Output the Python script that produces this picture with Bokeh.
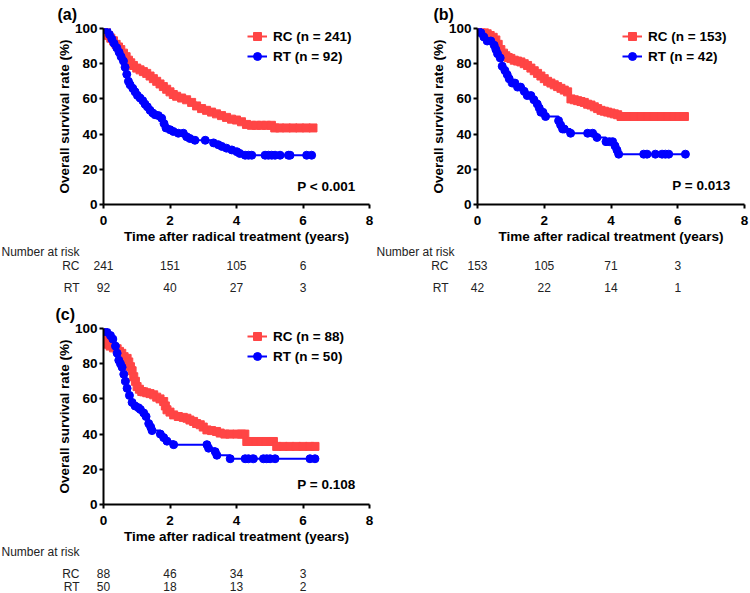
from bokeh.plotting import figure
from bokeh.models import Range1d, Label, Legend, LegendItem, Title
from bokeh.core.properties import value
from bokeh.layouts import column, row
from bokeh.embed import file_html
from bokeh.resources import INLINE

# ---------------- data ----------------
x_ticks = [0, 2, 4, 6, 8]
y_ticks = [0, 20, 40, 60, 80, 100]
risk_times = [0, 2, 4, 6]

# panel (a)
a_rc_t = [0, 0.08, 0.15, 0.22, 0.3, 0.38, 0.45, 0.52, 0.6, 0.68, 0.75, 0.82, 0.9, 1.0, 1.1,
          1.2, 1.3, 1.4, 1.5, 1.6, 1.7, 1.8, 1.9, 2.0, 2.1, 2.2, 2.35, 2.5, 2.65, 2.8,
          2.95, 3.1, 3.25, 3.4, 3.55, 3.7, 3.85, 4.0, 4.15, 4.3, 4.45, 4.6, 4.75, 4.9, 5.05,
          5.15, 5.3, 5.5, 5.7, 5.9, 6.1, 6.3]
a_rc_s = [100, 98, 96, 94.5, 93, 91, 89.5, 88, 86, 84, 82, 80.5, 79, 77.5, 76.5,
          75.5, 74.5, 73, 71.5, 70, 68.5, 67, 65.5, 64, 62.5, 61.5, 60.5, 59.5, 58, 56,
          54.5, 53.5, 52.5, 51.5, 50.5, 49.5, 48.5, 48, 47, 45.5, 45, 45, 45, 45, 45,
          43.5, 43.5, 43.5, 43.5, 43.5, 43.5, 43.5]
a_rt_t = [0, 0.1, 0.18, 0.25, 0.32, 0.4, 0.47, 0.53, 0.6, 0.65, 0.7, 0.75, 0.8, 0.88, 0.95,
          1.02, 1.1, 1.18, 1.25, 1.32, 1.4, 1.48, 1.55, 1.65, 1.75, 1.82, 1.88, 2.0, 2.1, 2.25,
          2.4, 2.5, 2.6, 2.75, 3.06, 3.31, 3.45, 3.56, 3.7, 3.86, 4.01, 4.1, 4.26, 4.36, 4.46,
          4.86, 4.96, 5.06, 5.16, 5.31, 5.56, 5.61, 6.11, 6.26]
a_rt_s = [100, 99, 96.5, 94, 91.5, 89, 86.5, 84, 81.5, 78, 74, 70, 68, 66, 64,
          62, 60.5, 59, 57, 55.5, 53.5, 52, 51, 50.5, 49, 46, 43.5, 42.5, 41.5, 40.5,
          40.5, 38.5, 37.5, 36.5, 36.5, 35, 34, 33, 32, 31, 30, 29, 28, 28, 28,
          28, 28, 28, 28, 28, 28, 28, 28, 28]
a_rc_risk = [241, 151, 105, 6]
a_rt_risk = [92, 40, 27, 3]

# panel (b)
b_rc_t = [0, 0.1, 0.2, 0.29, 0.38, 0.47, 0.55, 0.62, 0.7, 0.78, 0.85, 0.92, 1.0, 1.1, 1.2,
          1.3, 1.4, 1.5, 1.6, 1.7, 1.8, 1.9, 2.0, 2.1, 2.2, 2.3, 2.4, 2.5, 2.6, 2.7,
          2.8, 2.9, 3.0, 3.1, 3.2, 3.3, 3.4, 3.5, 3.6, 3.7, 3.8, 3.9, 4.0, 4.1, 4.2,
          4.3, 4.5, 4.7, 4.9, 5.1, 5.3, 5.5, 5.7, 5.9, 6.05, 6.2]
b_rc_s = [100, 99, 98, 97, 96, 95, 93.5, 91, 88, 86, 84.5, 83.5, 83, 82, 81.5,
          81, 80, 79, 77.5, 76, 74.5, 73, 71.5, 70, 69, 68, 67, 66, 65, 64,
          60, 59.5, 59, 58.5, 58, 57, 56.5, 55.5, 54.5, 53.5, 53, 52.5, 52, 51.5, 51,
          50, 50, 50, 50, 50, 50, 50, 50, 50, 50, 50]
b_rt_t = [0, 0.1, 0.19, 0.29, 0.4, 0.5, 0.55, 0.6, 0.68, 0.74, 0.82, 0.89, 0.95, 1.04, 1.12,
          1.2, 1.29, 1.4, 1.49, 1.6, 1.69, 1.79, 1.85, 1.9, 1.96, 2.04, 2.43, 2.49, 2.55, 2.6,
          2.79, 3.3, 3.45, 3.58, 3.85, 3.95, 4.05, 4.12, 4.18, 4.23, 4.98, 5.08, 5.33, 5.53, 5.63,
          5.73, 6.23]
b_rt_s = [100, 97.6, 95.2, 92.9, 92.9, 90.5, 88.1, 85.7, 83.3, 78.6, 76.2, 73.8, 71.4, 69.0, 69.0,
          66.7, 66.7, 64.3, 61.9, 61.9, 59.5, 57.1, 54.8, 52.4, 52.4, 50.0, 47.6, 45.2, 42.9, 42.9,
          40.5, 40.5, 40.5, 38.1, 35.7, 35.7, 35.7, 33.3, 30.9, 28.6, 28.6, 28.6, 28.6, 28.6, 28.6,
          28.6, 28.6]
b_rc_risk = [153, 105, 71, 3]
b_rt_risk = [42, 22, 14, 1]

# panel (c)
c_rc_t = [0, 0.05, 0.1, 0.15, 0.2, 0.3, 0.41, 0.48, 0.55, 0.62, 0.71, 0.76, 0.81, 0.86, 0.91,
          0.96, 1.01, 1.08, 1.15, 1.21, 1.3, 1.4, 1.51, 1.6, 1.7, 1.81, 1.86, 1.91, 2.0, 2.11,
          2.25, 2.4, 2.51, 2.6, 2.71, 2.8, 2.91, 3.0, 3.11, 3.25, 3.4, 3.51, 3.65, 3.8, 4.01,
          4.15, 4.25, 4.31, 4.45, 4.6, 4.75, 4.9, 5.05, 5.11, 5.21, 5.4, 5.6, 5.8, 6.0, 6.2, 6.36]
c_rc_s = [100, 97, 93, 91, 90, 89, 88.5, 87, 85.9, 84, 83, 81, 78.3, 76, 72.6,
          70, 67, 65.5, 64.2, 64, 63.5, 63, 62.3, 61, 60, 58.5, 56, 53.8, 52.5, 50.9,
          50, 49.5, 49, 48, 47.2, 46, 45.3, 44, 42.4, 42, 41.5, 40.6, 40, 40, 40,
          40, 40, 35.8, 35.8, 35.8, 35.8, 35.8, 35.8, 35.8, 33, 33, 33, 33, 33, 33, 33]
c_rt_t = [0, 0.1, 0.21, 0.28, 0.36, 0.41, 0.46, 0.51, 0.56, 0.61, 0.66, 0.71, 0.78, 0.86, 0.95,
          1.05, 1.11, 1.21, 1.28, 1.36, 1.42, 1.46, 1.71, 1.81, 1.91, 2.11, 3.11, 3.16, 3.36, 3.41,
          3.81, 4.26, 4.36, 4.51, 4.81, 4.91, 5.01, 5.16, 6.21, 6.36]
c_rt_s = [100, 98, 96, 94, 90, 86, 82, 80, 78, 74, 70, 66, 62, 58, 56,
          55, 54, 52, 50, 46, 44, 42, 40, 38, 36, 34, 34, 32, 30, 28,
          26, 26, 26, 26, 26, 26, 26, 26, 26, 26]
c_rc_risk = [88, 46, 34, 3]
c_rt_risk = [50, 18, 13, 2]

# ---------------- style ----------------
FONT = "Liberation Sans"
RED = "#FF4545"
BLUE = "#0000FF"
TXT = "#222222"
X_END = 8


def km_panel(tag, tag_offset, rc_t, rc_s, rt_t, rt_s, rc_label, rt_label, ptext, p_y,
             width, height, bl, br, bt, bb, legend_loc):
    p = figure(width=width, height=height, output_backend="svg", toolbar_location=None,
               x_range=Range1d(0, X_END), y_range=Range1d(0, 100),
               min_border_left=bl, min_border_right=br, min_border_top=bt, min_border_bottom=bb)
    p.outline_line_color = None
    p.xgrid.visible = False
    p.ygrid.visible = False

    for ax in (p.xaxis[0], p.yaxis[0]):
        ax.axis_line_width = 2
        ax.axis_line_color = "black"
        ax.major_tick_line_width = 2
        ax.major_tick_line_color = "black"
        ax.major_tick_in = 0
        ax.major_tick_out = 4
        ax.minor_tick_line_color = None
        ax.major_label_text_font = FONT
        ax.major_label_text_font_style = "bold"
        ax.major_label_text_font_size = "13.5px"
        ax.major_label_text_color = "black"
        ax.axis_label_text_font = FONT
        ax.axis_label_text_font_style = "bold"
        ax.axis_label_text_font_size = "13.5px"
        ax.axis_label_text_color = "black"
    p.xaxis.ticker = x_ticks
    p.yaxis.ticker = y_ticks
    p.xaxis.major_label_standoff = 7
    p.yaxis.major_label_standoff = 2
    p.xaxis.axis_label = "Time after radical treatment (years)"
    p.yaxis.axis_label = "Overall survival rate (%)"
    p.xaxis.axis_label_standoff = 1
    p.yaxis.axis_label_standoff = 0

    l1 = p.step(rc_t, rc_s, mode="after", line_color=RED, line_width=2)
    m1 = p.scatter(rc_t, rc_s, marker="square", size=8, fill_color=RED, line_color=RED)
    l2 = p.step(rt_t, rt_s, mode="after", line_color=BLUE, line_width=2)
    m2 = p.scatter(rt_t, rt_s, marker="circle", size=8, fill_color=BLUE, line_color=BLUE)

    legend = Legend(items=[LegendItem(label=rc_label, renderers=[l1, m1]),
                           LegendItem(label=rt_label, renderers=[l2, m2])],
                    location=legend_loc, margin=0, padding=0, spacing=0,
                    glyph_width=20, glyph_height=20, label_height=20, label_standoff=6,
                    label_text_font=FONT, label_text_font_style="bold",
                    label_text_font_size="13.5px", label_text_color="black",
                    background_fill_alpha=0, border_line_color=None)
    p.add_layout(legend, "center")

    p.add_layout(Title(text=tag, align="left", offset=tag_offset, standoff=8,
                       vertical_align="top",
                       text_font=FONT, text_font_style="bold", text_font_size="16px",
                       text_color="black"), "above")

    fw = width - bl - br
    p.add_layout(Label(x=(fw - 14) / fw * X_END, y=p_y, text=ptext, text_align="right",
                       text_baseline="middle", text_font=FONT, text_font_style="bold",
                       text_font_size="13.5px", text_color="black"))
    return p


def risk_table(rc_risk, rt_risk, width, height, frame_left, frame_w,
               nar_x, nar_y, row_x, rc_y, rt_y):
    # x scale identical to the KM frame above it
    t0 = -frame_left / frame_w * X_END
    t1 = (width - frame_left) / frame_w * X_END
    p = figure(width=width, height=height, output_backend="svg", toolbar_location=None,
               x_range=Range1d(t0, t1), y_range=Range1d(height, 0),
               x_axis_type=None, y_axis_type=None,
               min_border_left=0, min_border_right=0, min_border_top=0, min_border_bottom=0)
    p.outline_line_color = None
    try:
        p.frame_align = False
    except Exception:
        pass

    def tx(px):
        return (px - frame_left) / frame_w * X_END

    kw = dict(text_font=value(FONT), text_font_size=value("12px"), text_color=TXT,
              text_baseline="middle")
    p.text(x=[tx(nar_x)], y=[nar_y], text=["Number at risk"], text_align="left", **kw)
    p.text(x=[tx(row_x)] * 2, y=[rc_y, rt_y], text=["RC", "RT"], text_align="right", **kw)
    p.text(x=risk_times, y=[rc_y] * len(risk_times), text=[str(v) for v in rc_risk],
           text_align="center", **kw)
    p.text(x=risk_times, y=[rt_y] * len(risk_times), text=[str(v) for v in rt_risk],
           text_align="center", **kw)
    return p


# geometry (pixels)
KM_H = 246
ka = km_panel("(a)", -46, a_rc_t, a_rc_s, a_rt_t, a_rt_s, "RC (n = 241)", "RT (n = 92)",
              "P < 0.001", 10.2, 375, KM_H, 103, 6, 28, 41, (144, 138))
kb = km_panel("(b)", -44, b_rc_t, b_rc_s, b_rt_t, b_rt_s, "RC (n = 153)", "RT (n = 42)",
              "P = 0.013", 10.7, 375, KM_H, 102, 6, 28, 41, (145, 138))
kc = km_panel("(c)", -48, c_rc_t, c_rc_s, c_rt_t, c_rt_s, "RC (n = 88)", "RT (n = 50)",
              "P = 0.108", 11.3, 375, KM_H, 103, 6, 28, 41, (144, 138))

ta = risk_table(a_rc_risk, a_rt_risk, 375, 54, 103, 266, 1, 5, 79, 19, 41)
tb = risk_table(b_rc_risk, b_rt_risk, 375, 54, 102, 267, 1, 5, 73, 19, 41)
tc = risk_table(c_rc_risk, c_rt_risk, 375, 47, 103, 266, 1, 5, 79, 27, 40)

layout = column(row(column(ka, ta), column(kb, tb)), column(kc, tc))
open("out.html", "w").write(file_html(layout, INLINE))
